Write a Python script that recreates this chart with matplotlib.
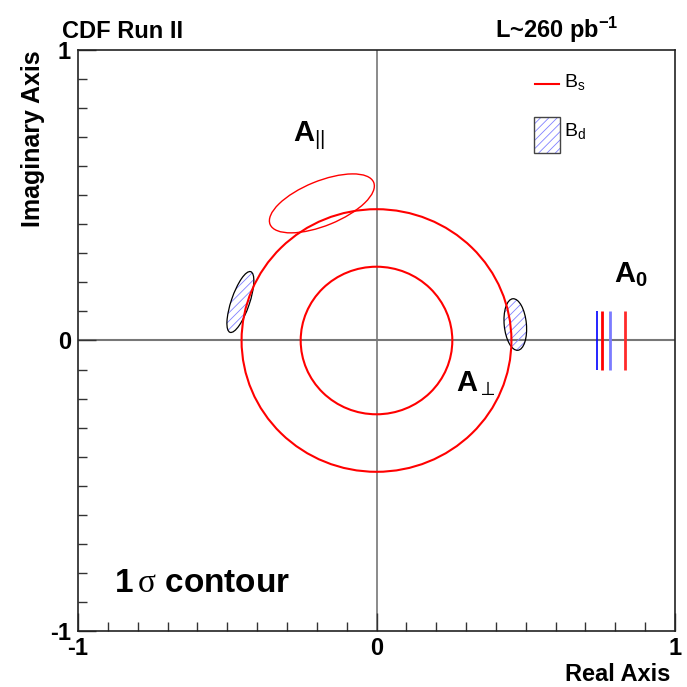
import matplotlib
matplotlib.use('Agg')
import matplotlib.pyplot as plt
from matplotlib.patches import Ellipse, Circle, Rectangle
from matplotlib.lines import Line2D
from matplotlib.ticker import MultipleLocator, FixedLocator

plt.rcParams['font.family'] = ['Liberation Sans', 'DejaVu Sans']
plt.rcParams['mathtext.fontset'] = 'custom'
plt.rcParams['mathtext.rm'] = 'Liberation Sans'
plt.rcParams['mathtext.bf'] = 'Liberation Sans:bold'
plt.rcParams['mathtext.it'] = 'Liberation Sans:italic'
plt.rcParams['mathtext.sf'] = 'Liberation Serif'
plt.rcParams['hatch.linewidth'] = 0.6

# ---------------- data ----------------
# A_perp (Bs) 1-sigma contour: ring between two radii
perp_radii = [0.254, 0.452]
# A_parallel (Bs) 1-sigma ellipse
apar_center = (-0.183, 0.472)
apar_semi_axes = (0.188, 0.0766)
apar_angle = 22.8
# Bd 1-sigma ellipses (A_parallel, A_perp)
bd_centers = [(-0.456, 0.1325), (0.465, 0.055)]
bd_semi_axes = [(0.110, 0.0306), (0.0891, 0.0372)]
bd_angles = [71.7, 95.3]
# A_0 (real) 1-sigma bounds
a0_values = [0.740, 0.757, 0.782, 0.834]
a0_colors = ['#0000ff', '#ff0000', '#7b7bff', '#ff2a2a']
a0_widths = [1.2, 2.0, 2.0, 2.0]
a0_half_height = 0.1
tick_labels = ['-1', '0', '1']
tick_major = [-1, 0, 1]

# ---------------- figure ----------------
fig = plt.figure(figsize=(6.87, 6.87), dpi=100)
ax = fig.add_axes([78/687, 1-631/687, 597/687, 581/687])
ax.set_xlim(-1, 1)
ax.set_ylim(-1, 1)

ax.axhline(0, color='#777777', lw=1.5, zorder=1)
ax.axvline(0, color='#777777', lw=1.2, zorder=1)

for r in perp_radii:
    ax.add_patch(Circle((0, 0), r, fill=False, edgecolor='#ff0000', lw=1.5, zorder=3))

ax.add_patch(Ellipse(apar_center, 2*apar_semi_axes[0], 2*apar_semi_axes[1],
                     angle=apar_angle, fill=False, edgecolor='#ff0000', lw=1.0, zorder=3))

for c, (a, b), ang in zip(bd_centers, bd_semi_axes, bd_angles):
    ax.add_patch(Ellipse(c, 2*a, 2*b, angle=ang, fill=False, hatch='////',
                         edgecolor='#8080ff', lw=0, zorder=2))
    ax.add_patch(Ellipse(c, 2*a, 2*b, angle=ang, fill=False,
                         edgecolor='black', lw=0.9, zorder=2))

ax.vlines(a0_values, -a0_half_height, a0_half_height, colors=a0_colors,
          linewidths=a0_widths, zorder=3)

# ticks
ax.xaxis.set_major_locator(FixedLocator(tick_major))
ax.yaxis.set_major_locator(FixedLocator(tick_major))
ax.xaxis.set_minor_locator(MultipleLocator(0.1))
ax.yaxis.set_minor_locator(MultipleLocator(0.1))
ax.set_xticklabels(tick_labels)
ax.set_yticklabels(tick_labels)
ax.tick_params(which='both', direction='in', top=False, right=False, color='#333333')
ax.tick_params(which='major', length=13, width=1.0, labelsize=17)
ax.tick_params(axis='x', which='major', pad=4)
ax.tick_params(axis='y', which='major', pad=5)
ax.tick_params(which='minor', length=6.5, width=1.0)
for lab in ax.get_xticklabels() + ax.get_yticklabels():
    lab.set_fontweight('bold')
for s in ax.spines.values():
    s.set_linewidth(1.2)
    s.set_color('#222222')

ax.set_xlabel('Real Axis', loc='right', fontsize=17, fontweight='bold')
ax.xaxis.set_label_coords(0.9916, -0.055)
ax.set_ylabel('Imaginary Axis', loc='top', fontsize=18, fontweight='bold')
ax.yaxis.set_label_coords(-0.056, 1.0)

# annotations
ax.text(-0.281, 0.685, r'$\mathbf{A}_{\mathrm{||}}$', fontsize=21, va='baseline', ha='left')
ax.text(0.267, -0.175, r'$\mathbf{A}_{\perp}$', fontsize=21, va='baseline', ha='left')
ax.text(0.794, 0.2, r'$\mathbf{A}_{\mathbf{0}}$', fontsize=21, va='baseline', ha='left')
ax.text(-0.878, -0.867, r'$\mathbf{1}\,\mathsf{\sigma}\ \mathbf{contour}$', fontsize=24,
        va='baseline', ha='left')

# legend
ax.add_line(Line2D([0.765, 0.806], [0.941, 0.941], transform=ax.transAxes,
                   color='#ff0000', lw=1.5))
ax.add_patch(Rectangle((0.763, 0.823), 0.0436, 0.062, transform=ax.transAxes,
                       fill=False, hatch='////', edgecolor='#8080ff', lw=0))
ax.add_patch(Rectangle((0.763, 0.823), 0.0436, 0.062, transform=ax.transAxes,
                       fill=False, edgecolor='#444444', lw=1.0))
ax.text(0.814, 0.936, r'B$_{\mathrm{s}}$', transform=ax.transAxes, fontsize=14, va='baseline')
ax.text(0.814, 0.852, r'B$_{\mathrm{d}}$', transform=ax.transAxes, fontsize=14, va='baseline')

fig.text(62/687, 1-38/687, 'CDF Run II', fontsize=17, fontweight='bold', va='baseline')
fig.text(495/687, 1-38/687, r'L~260 pb$^{\mathbf{-1}}$', fontsize=17, fontweight='bold',
         va='baseline')

fig.savefig('out.png', dpi=100)
